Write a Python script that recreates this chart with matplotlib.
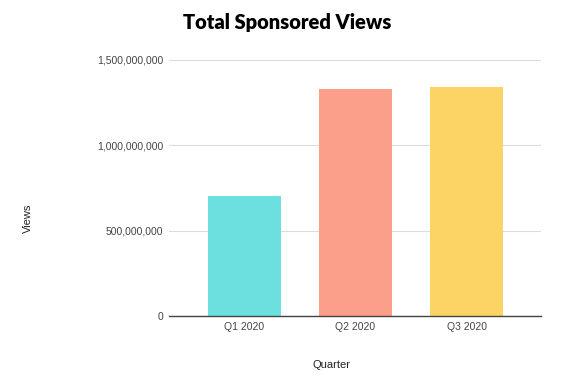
import matplotlib
matplotlib.use("Agg")
import matplotlib.pyplot as plt
from matplotlib.ticker import FuncFormatter

quarters = ["Q1 2020", "Q2 2020", "Q3 2020"]
views = [703_000_000, 1_330_000_000, 1_343_000_000]
colors = ["#6BE0DF", "#FB9E8A", "#FCD466"]

plt.rcParams["font.family"] = ["Liberation Sans", "DejaVu Sans"]

fig = plt.figure(figsize=(5.74, 3.76), dpi=100)
ax = fig.add_axes([0.2944, 0.1596, 0.648, 0.6809])

x = range(len(quarters))
ax.bar(x, views, width=0.65, color=colors, zorder=3)

ax.set_xlim(-0.68, 2.67)
ax.set_ylim(0, 1_500_000_000)
ax.set_yticks([0, 500_000_000, 1_000_000_000, 1_500_000_000])
ax.yaxis.set_major_formatter(FuncFormatter(lambda v, _: f"{int(v):,}"))
ax.set_xticks(list(x))
ax.set_xticklabels(quarters)

ax.grid(axis="y", color="#DDDDDD", linewidth=0.8, zorder=0)
for side in ("top", "right", "left"):
    ax.spines[side].set_visible(False)
ax.spines["bottom"].set_color("#444444")
ax.spines["bottom"].set_linewidth(1.0)
ax.spines["bottom"].set_zorder(4)
ax.tick_params(axis="y", length=0, labelsize=7.5, colors="#444444", pad=4)
ax.tick_params(axis="x", length=0, labelsize=7.5, colors="#444444", pad=4)

fig.text(0.5, 0.94, "Total Sponsored Views", ha="center", va="center",
         fontsize=14.5, fontweight="heavy", family="Lato")
fig.text(0.049, 0.42, "Views", rotation=90, ha="center", va="center",
         fontsize=8, color="#222222")
fig.text(0.578, 0.029, "Quarter", ha="center", va="center",
         fontsize=8, color="#222222")

fig.savefig("out.png", dpi=100)
